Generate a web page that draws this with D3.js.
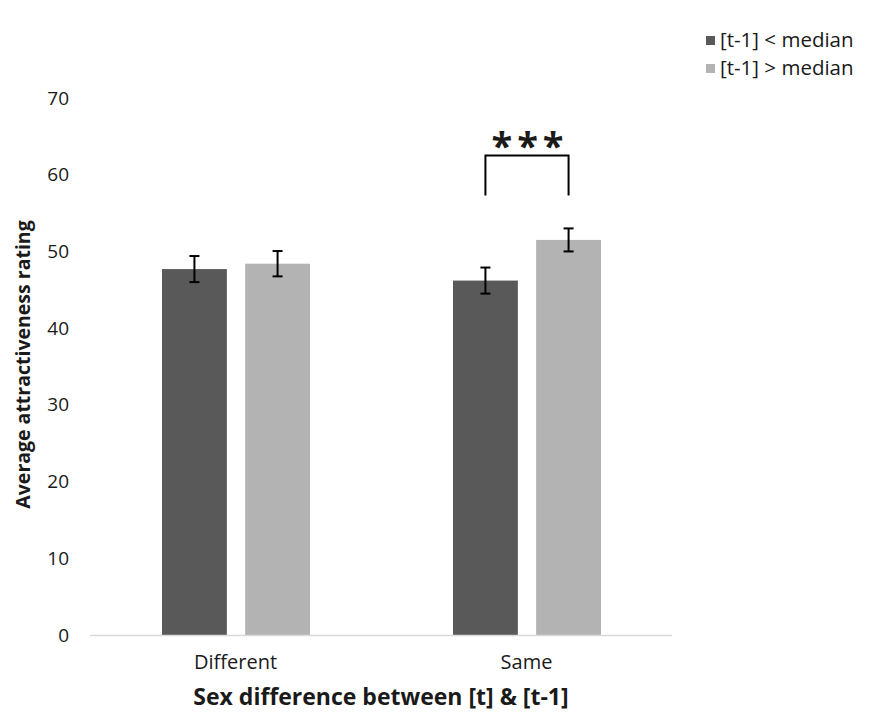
<!DOCTYPE html>
<html>
<head>
<meta charset="utf-8">
<script src="https://cdn.jsdelivr.net/npm/d3@7"></script>
<style>
  body { margin: 0; background: #fff; }
  svg text { font-family: "Open Sans", "Noto Sans", sans-serif; fill: #1a1a1a; }
</style>
</head>
<body>
<svg id="chart" width="875" height="720"></svg>
<script>
// Categories, series and values
const categories = ["Different", "Same"];
const seriesNames = ["[t-1] < median", "[t-1] > median"];
const seriesColors = ["#595959", "#b3b3b3"];
const lowMeans = [47.7, 46.2];
const highMeans = [48.4, 51.5];
const lowErrors = [1.7, 1.7];
const highErrors = [1.65, 1.5];
const yTicks = [0, 10, 20, 30, 40, 50, 60, 70];
const yTitle = "Average attractiveness rating";
const xTitle = "Sex difference between [t] & [t-1]";
const sigLabel = "***";

const svg = d3.select("#chart");
const margin = { left: 90, right: 203, top: 98, bottom: 85 };
const W = 875, H = 720;
const plotW = W - margin.left - margin.right;
const plotH = H - margin.top - margin.bottom;

const g = svg.append("g").attr("transform", `translate(${margin.left},${margin.top})`);

const x0 = d3.scaleBand().domain(categories).range([0, plotW]).paddingInner(0).paddingOuter(0);
const x1 = d3.scaleBand().domain(seriesNames).range([72, x0.bandwidth() - 71]).paddingInner(0.22);
const y = d3.scaleLinear().domain([0, 70]).range([plotH, 0]);

const rows = categories.map((c, i) => ({
  cat: c,
  vals: [
    { s: seriesNames[0], v: lowMeans[i], e: lowErrors[i], color: seriesColors[0] },
    { s: seriesNames[1], v: highMeans[i], e: highErrors[i], color: seriesColors[1] }
  ]
}));

// Y axis tick labels (no axis line)
const yAxis = d3.axisLeft(y).tickValues(yTicks).tickSize(0).tickPadding(21);
const yg = g.append("g").call(yAxis);
yg.select(".domain").remove();
yg.selectAll("text").style("font-size", "19px").attr("fill", "#1a1a1a");

// Bars
const groups = g.selectAll(".grp").data(rows).join("g")
  .attr("transform", d => `translate(${x0(d.cat)},0)`);

groups.selectAll("rect").data(d => d.vals).join("rect")
  .attr("x", d => x1(d.s))
  .attr("width", x1.bandwidth())
  .attr("y", d => y(d.v))
  .attr("height", d => plotH - y(d.v))
  .attr("fill", d => d.color);

// Error bars
const eb = groups.selectAll(".err").data(d => d.vals).join("g").attr("class", "err");
eb.append("line")
  .attr("x1", d => x1(d.s) + x1.bandwidth() / 2)
  .attr("x2", d => x1(d.s) + x1.bandwidth() / 2)
  .attr("y1", d => y(d.v + d.e))
  .attr("y2", d => y(d.v - d.e))
  .attr("stroke", "#000").attr("stroke-width", 2);
[1, -1].forEach(sign => {
  eb.append("line")
    .attr("x1", d => x1(d.s) + x1.bandwidth() / 2 - 5)
    .attr("x2", d => x1(d.s) + x1.bandwidth() / 2 + 5)
    .attr("y1", d => y(d.v + sign * d.e))
    .attr("y2", d => y(d.v + sign * d.e))
    .attr("stroke", "#000").attr("stroke-width", 2);
});

// Baseline
g.append("line")
  .attr("x1", 0).attr("x2", plotW)
  .attr("y1", plotH + 0.5).attr("y2", plotH + 0.5)
  .attr("stroke", "#d9d9d9").attr("stroke-width", 1.5);

// Category labels
const xAxis = d3.axisBottom(x0).tickSize(0).tickPadding(20);
const xg = g.append("g").attr("transform", `translate(0,${plotH})`).call(xAxis);
xg.select(".domain").remove();
xg.selectAll("text").style("font-size", "20px").attr("fill", "#1a1a1a");

// Significance bracket over the "Same" pair
const sameX = x0("Same");
const bxL = sameX + x1(seriesNames[0]) + x1.bandwidth() / 2;
const bxR = sameX + x1(seriesNames[1]) + x1.bandwidth() / 2;
const bTop = y(62.5), bBot = y(57.3);
g.append("path")
  .attr("d", `M${bxL},${bBot} V${bTop} H${bxR} V${bBot}`)
  .attr("fill", "none").attr("stroke", "#000").attr("stroke-width", 2);
g.append("text")
  .attr("x", (bxL + bxR) / 2 + 3).attr("y", bTop + 4)
  .attr("text-anchor", "middle")
  .style("font-size", "38px").style("letter-spacing", "5px")
  .style("font-weight", "bold")
  .text(sigLabel);

// Axis titles
svg.append("text")
  .attr("transform", `translate(30,${margin.top + plotH / 2 - 2}) rotate(-90)`)
  .attr("text-anchor", "middle")
  .style("font-size", "19.5px").style("font-weight", "bold")
  .text(yTitle);

svg.append("text")
  .attr("x", margin.left + plotW / 2).attr("y", 705)
  .attr("text-anchor", "middle")
  .style("font-size", "23px").style("font-weight", "bold")
  .text(xTitle);

// Legend
const leg = svg.append("g").attr("transform", "translate(706,30)");
seriesNames.forEach((s, i) => {
  const row = leg.append("g").attr("transform", `translate(0,${i * 28})`);
  row.append("rect").attr("x", 0).attr("y", 6).attr("width", 9).attr("height", 9).attr("fill", seriesColors[i]);
  row.append("text").attr("x", 14).attr("y", 17).style("font-size", "20.5px").text(s);
});
</script>
</body>
</html>
